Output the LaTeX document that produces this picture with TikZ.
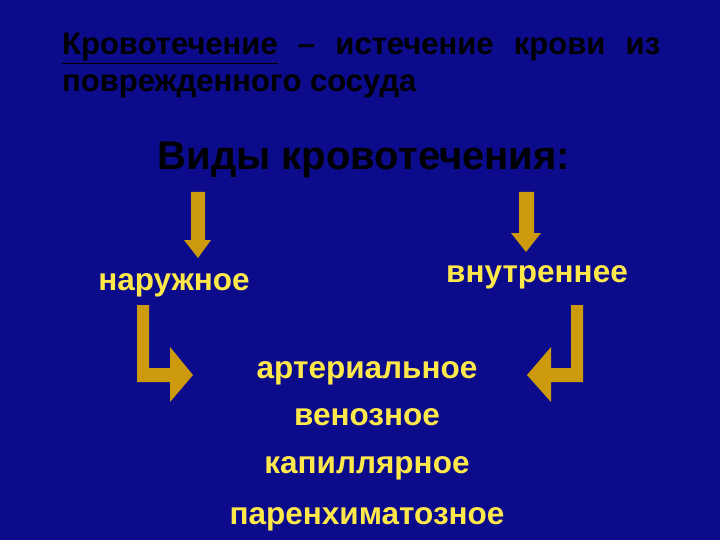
\documentclass[tikz,border=0pt]{standalone}
\usepackage{fontspec}
\setmainfont{Liberation Sans}
\definecolor{bg}{HTML}{0B0B8C}
\definecolor{gold}{HTML}{CC9A0C}
\definecolor{txt}{HTML}{FFE84A}
\begin{document}
\begin{tikzpicture}[x=1pt,y=-1pt,
  lbl/.style={font=\bfseries\fontsize{31.5}{34}\selectfont,text=txt,inner sep=0pt,anchor=base},
  arr/.style={fill=gold,draw=none}]
\fill[bg] (0,0) rectangle (720,540);
\node[anchor=base west,inner sep=0pt,font=\bfseries\fontsize{31}{34}\selectfont] (t1) at (62,55)
 {\makebox[598pt][s]{\underline{Кровотечение} – истечение крови из}};
\node[anchor=base west,inner sep=0pt,font=\bfseries\fontsize{31}{34}\selectfont] (t2) at (62,92) {поврежденного сосуда};
\node[anchor=base,inner sep=0pt,font=\bfseries\fontsize{40}{44}\selectfont] (h) at (364,170) {Виды кровотечения:};
\node[lbl] (nar) at (174,290) {наружное};
\node[lbl] (vnu) at (537,282) {внутреннее};
\node[lbl] (a1) at (367,378) {артериальное};
\node[lbl] (a2) at (367,425) {венозное};
\node[lbl] (a3) at (367,473) {капиллярное};
\node[lbl] (a4) at (367,524) {паренхиматозное};
% down arrows
\fill[arr] (191,192) -- (205,192) -- (205,240) -- (211,240) -- (198,258) -- (184,240) -- (191,240) -- cycle;
\fill[arr] (519,192) -- (534,192) -- (534,233) -- (541,233) -- (526,252) -- (511,233) -- (519,233) -- cycle;
% bent arrows
\fill[arr] (137,305) -- (149,305) -- (149,368) -- (170,368) -- (170,347) -- (193,375) -- (170,402) -- (170,382) -- (137,382) -- cycle;
\fill[arr] (583,305) -- (571,305) -- (571,368) -- (551,368) -- (551,347) -- (527,375) -- (551,402) -- (551,382) -- (583,382) -- cycle;
\end{tikzpicture}
\end{document}
